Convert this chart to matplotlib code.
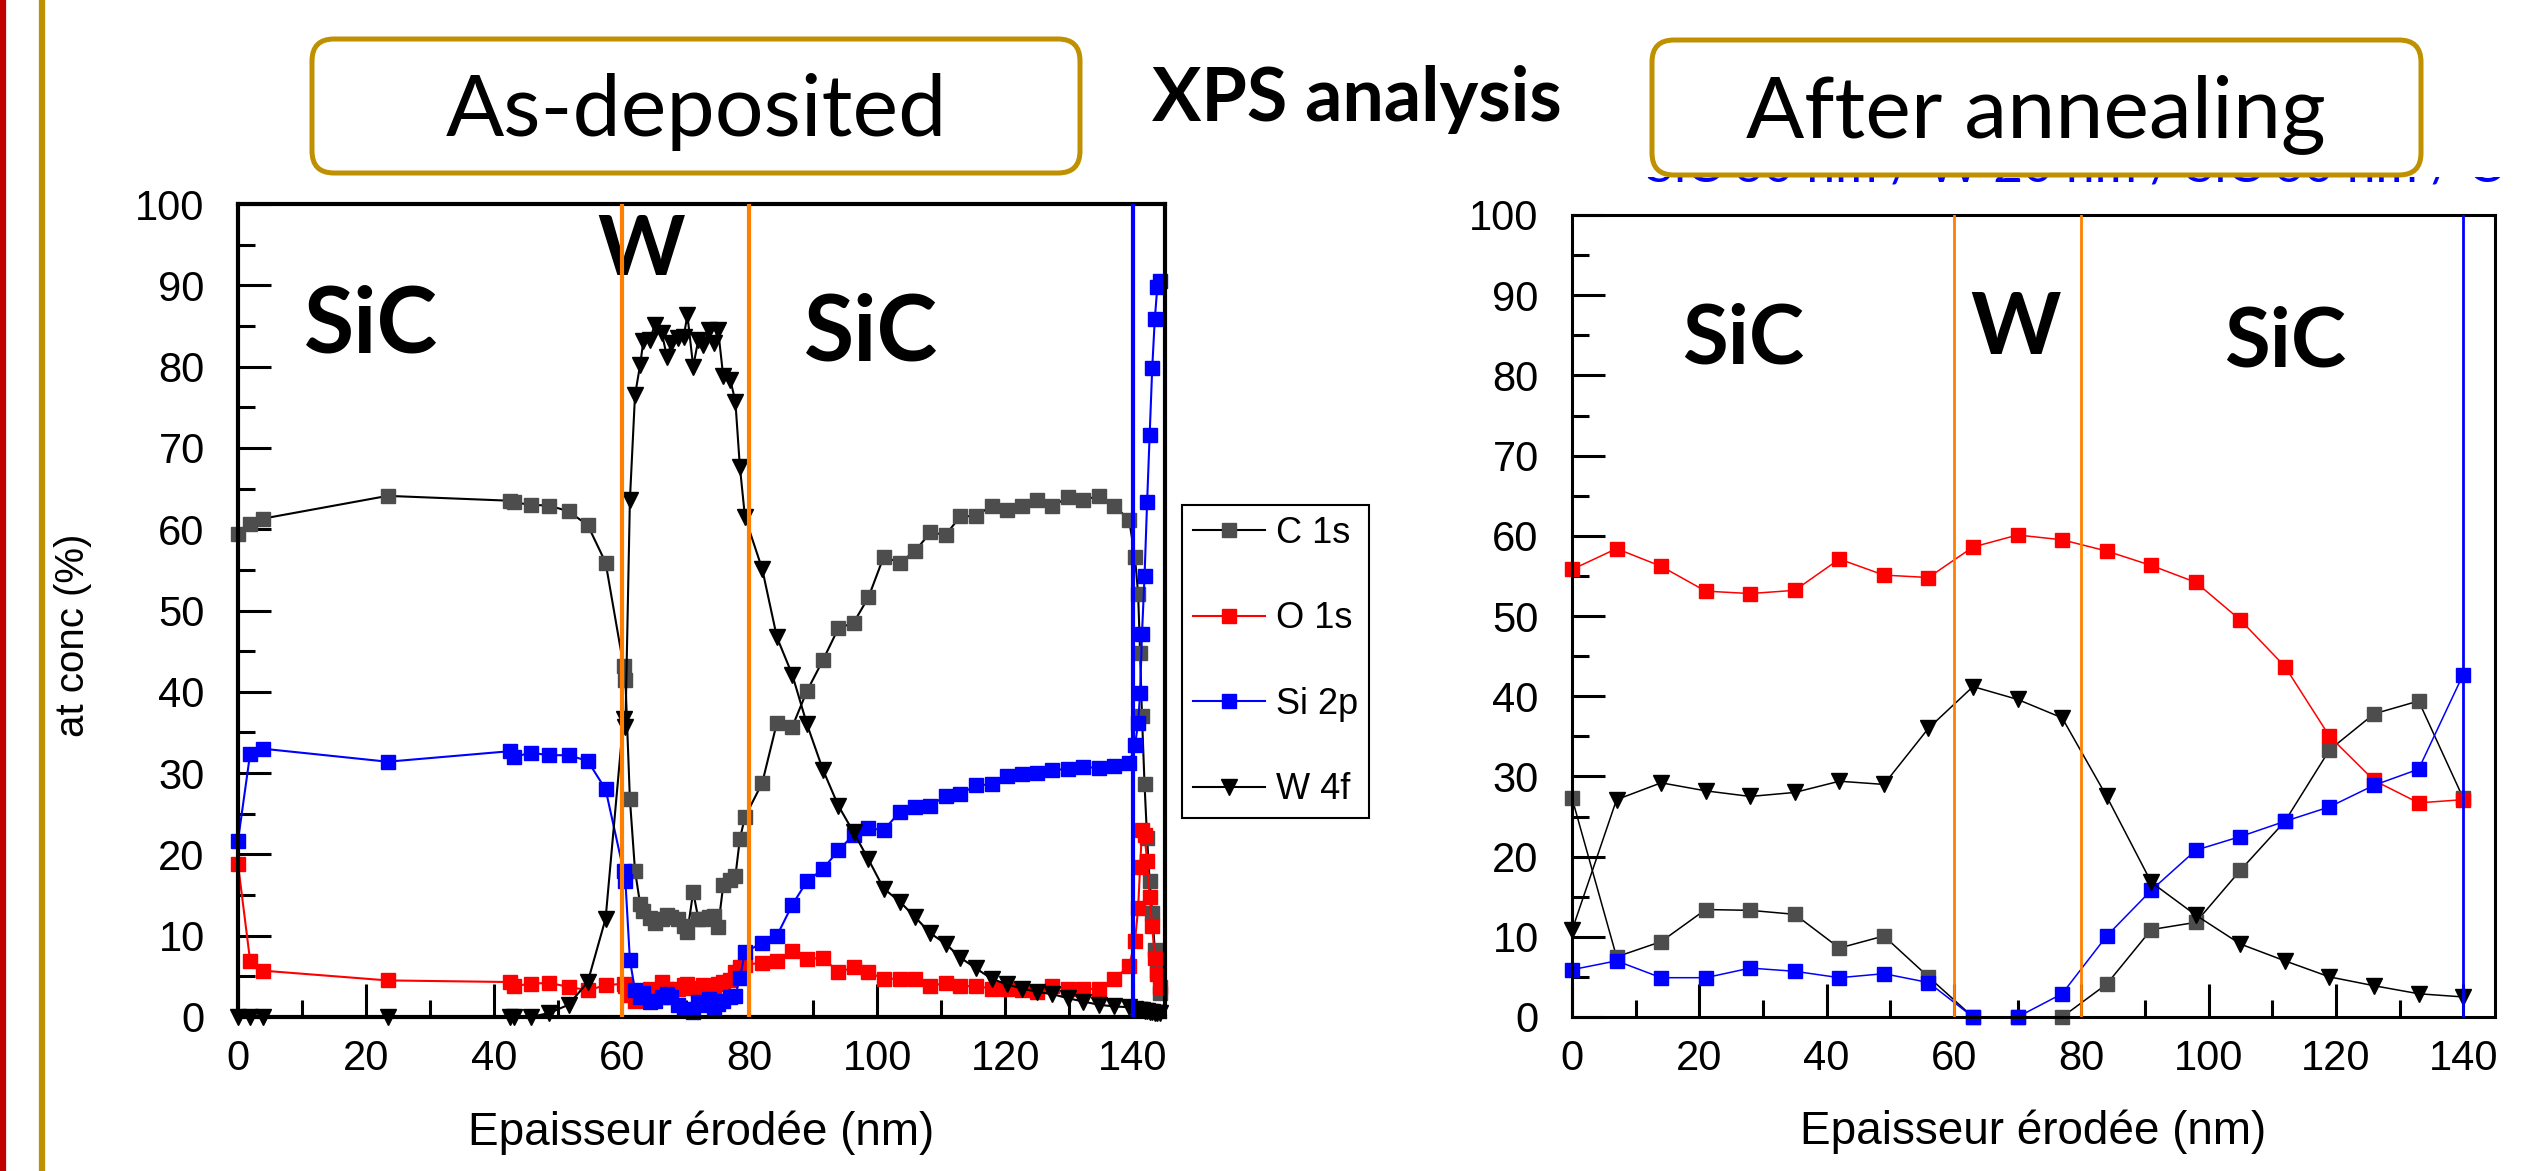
import matplotlib
matplotlib.use("Agg")
import matplotlib.pyplot as plt
import matplotlib.transforms as mtransforms
from matplotlib.patches import FancyBboxPatch
from matplotlib.lines import Line2D
from matplotlib.ticker import MultipleLocator

# ---- as-deposited profile (left) ----
dep_x = [0, 1.9, 3.9, 23.4, 42.6, 43.2, 45.8, 48.7, 51.7, 54.7, 57.5, 60.3, 60.6,
         61.3, 62.1, 62.9, 63.4, 64.4, 65.2, 66.3, 67.1, 67.8, 68.9, 69.7, 70.3,
         71.2, 72.0, 72.8, 73.6, 74.4, 75.1, 75.9, 77.0, 77.8, 78.5, 79.3, 82.0,
         84.3, 86.7, 89.0, 91.5, 93.9, 96.3, 98.6, 101.0, 103.5, 105.9, 108.3,
         110.7, 113.0, 115.4, 117.9, 120.3, 122.6, 125.0, 127.4, 129.9, 132.2,
         134.7, 137.1, 139.4, 140.3, 140.8, 141.1, 141.4, 141.8, 142.2, 142.6,
         143.0, 143.4, 143.8, 144.2]
dep_c1s = [59.4, 60.6, 61.3, 64.1, 63.5, 63.3, 63.0, 62.9, 62.2, 60.5, 55.9, 43.2, 41.4,
           26.8, 18.0, 13.9, 13.0, 12.2, 11.6, 12.0, 12.5, 12.3, 12.0, 11.2, 10.5,
           15.4, 12.1, 12.0, 12.3, 12.4, 11.1, 16.2, 16.8, 17.3, 21.9, 24.6, 28.8,
           36.2, 35.7, 40.1, 43.9, 47.8, 48.5, 51.6, 56.6, 55.9, 57.3, 59.6,
           59.3, 61.6, 61.6, 62.9, 62.4, 62.9, 63.6, 62.9, 63.9, 63.6,
           64.1, 62.9, 61.1, 56.6, 52.0, 44.8, 37.0, 28.6, 22.0, 16.7,
           12.8, 8.3, 5.7, 3.0]
dep_o1s = [18.8, 6.9, 5.7, 4.5, 4.3, 3.8, 4.1, 4.2, 3.7, 3.3, 3.9, 4.1, 3.8,
           2.7, 2.0, 2.5, 3.2, 3.5, 2.8, 4.3, 3.4, 3.2, 3.5, 3.9, 4.1,
           3.6, 3.3, 3.9, 3.4, 3.6, 4.0, 4.3, 4.6, 5.5, 6.2, 6.4, 6.7,
           6.9, 8.1, 7.1, 7.3, 5.5, 6.1, 5.5, 4.7, 4.7, 4.7, 3.8,
           4.2, 3.8, 3.8, 3.5, 3.4, 3.3, 3.1, 3.8, 3.4, 3.4,
           3.5, 4.7, 6.3, 9.3, 13.4, 18.4, 23.0, 22.4, 19.2, 14.7,
           11.2, 7.2, 5.3, 3.7]
dep_si2p = [21.7, 32.4, 33.0, 31.4, 32.7, 32.0, 32.5, 32.2, 32.2, 31.5, 28.0, 18.0, 16.7,
            7.0, 3.3, 2.5, 3.0, 1.8, 2.0, 2.5, 2.8, 2.4, 1.5, 1.0, 0.8,
            0.6, 1.8, 1.5, 2.2, 1.2, 1.6, 2.0, 2.5, 2.6, 4.8, 8.0, 9.1,
            10.0, 13.8, 16.7, 18.2, 20.5, 22.4, 23.2, 23.0, 25.2, 25.8, 26.0,
            27.2, 27.4, 28.5, 28.6, 29.6, 29.9, 30.0, 30.4, 30.5, 30.8,
            30.6, 30.9, 31.2, 33.4, 36.2, 39.8, 47.1, 54.2, 63.3, 71.6,
            79.8, 85.8, 89.8, 90.5]
dep_w4f = [0, 0, 0, 0, 0, 0, 0, 0.5, 1.5, 4.3, 12.1, 36.7, 35.7,
           63.6, 76.5, 80.2, 83.1, 83.3, 85.1, 84.1, 81.2, 82.9, 83.5, 83.7, 86.3,
           80.0, 83.3, 82.7, 84.5, 82.9, 84.5, 78.8, 78.4, 75.7, 67.7, 61.5, 55.1,
           46.7, 42.1, 36.0, 30.4, 26.0, 22.7, 19.4, 15.8, 14.2, 12.3, 10.3,
           9.0, 7.3, 6.0, 4.7, 4.0, 3.5, 3.1, 2.8, 2.3, 1.9,
           1.5, 1.3, 1.2, 1.0, 0.9, 0.8, 0.8, 0.7, 0.7, 0.6,
           0.6, 0.5, 0.5, 0.5]

# ---- after annealing profile (right) ----
ann_x = [0, 7, 14, 21, 28, 35, 42, 49, 56, 63, 70, 77, 84, 91, 98, 105, 112, 119, 126, 133, 140]
ann_c1s = [27.3, 7.5, 9.4, 13.4, 13.3, 12.8, 8.6, 10.1, 5.0, 0, 0, 0, 4.1, 10.9, 11.8,
           18.3, 24.4, 33.3, 37.8, 39.4, 27.3]
ann_o1s = [55.8, 58.4, 56.2, 53.1, 52.8, 53.2, 57.1, 55.1, 54.8, 58.6, 60.1, 59.5, 58.1,
           56.3, 54.2, 49.5, 43.7, 35.0, 29.5, 26.7, 27.1]
ann_si2p = [5.9, 7.0, 4.9, 4.9, 6.1, 5.7, 4.9, 5.4, 4.3, 0, 0, 2.9, 10.1, 15.8, 20.8,
            22.5, 24.4, 26.2, 28.9, 30.9, 42.7]
ann_w4f = [10.8, 27.1, 29.2, 28.2, 27.5, 28.0, 29.4, 29.0, 36.0, 41.2, 39.6, 37.3, 27.5,
           16.8, 12.7, 9.1, 7.0, 5.0, 3.9, 2.9, 2.5]

series_labels = ['C 1s', 'O 1s', 'Si 2p', 'W 4f']
layer_bounds = [60, 80]
substrate_edge = 140

W, H = 2539, 1171
ARIAL = ['Liberation Sans', 'DejaVu Sans']
CALIBRI = ['Lato', 'DejaVu Sans']
GOLD = '#BF9000'


def style_axis(ax, spine_w):
    ax.set_xlim(0, 145)
    ax.set_ylim(0, 100)
    ax.xaxis.set_major_locator(MultipleLocator(20))
    ax.xaxis.set_minor_locator(MultipleLocator(10))
    ax.yaxis.set_major_locator(MultipleLocator(10))
    ax.yaxis.set_minor_locator(MultipleLocator(5))
    ax.tick_params(which='both', direction='in', top=False, right=False, width=2.2)
    ax.tick_params(which='major', length=24)
    ax.tick_params(which='minor', length=12)
    ax.tick_params(axis='y', which='major', labelsize=30, pad=24)
    ax.tick_params(axis='x', which='major', labelsize=30, pad=16)
    for lab in ax.get_xticklabels() + ax.get_yticklabels():
        lab.set_family(ARIAL)
    for s in ax.spines.values():
        s.set_linewidth(spine_w)
    ax.set_xlabel('Epaisseur érodée (nm)', fontsize=33, family=ARIAL)
    ax.xaxis.set_label_coords(0.5, -0.115)


def draw_series(ax, x, c, o, si, w, lw, ms, tms):
    lc, = ax.plot(x, c, '-', color='black', lw=lw, marker='s', ms=ms,
                  mfc='#4D4D4D', mec='#4D4D4D', clip_on=False, label=series_labels[0])
    lo, = ax.plot(x, o, '-', color='#FF0000', lw=lw, marker='s', ms=ms,
                  mfc='#FF0000', mec='#FF0000', clip_on=False, label=series_labels[1])
    ls, = ax.plot(x, si, '-', color='#0000FF', lw=lw, marker='s', ms=ms,
                  mfc='#0000FF', mec='#0000FF', clip_on=False, label=series_labels[2])
    lw4, = ax.plot(x, w, '-', color='black', lw=lw, marker='v', ms=tms,
                   mfc='black', mec='black', clip_on=False, label=series_labels[3])
    return [lc, lo, ls, lw4]


def main():
    fig = plt.figure(figsize=(W / 100, H / 100), dpi=100)
    fig.patch.set_facecolor('white')

    ax1 = fig.add_axes([238 / W, 1 - 1017 / H, 927 / W, 813 / H])
    ax2 = fig.add_axes([1572 / W, 1 - 1017 / H, 923 / W, 802 / H])

    handles = draw_series(ax1, dep_x, dep_c1s, dep_o1s, dep_si2p, dep_w4f, 1.5, 10, 12)
    draw_series(ax2, ann_x, ann_c1s, ann_o1s, ann_si2p, ann_w4f, 1.1, 10, 11)

    for ax, vw in [(ax1, 3.0), (ax2, 2.0)]:
        for b in layer_bounds:
            ax.axvline(b, color='#FF8000', lw=vw, zorder=5)
        ax.axvline(substrate_edge, color='#0000FF', lw=vw, zorder=5)

    style_axis(ax1, 3.0)
    style_axis(ax2, 2.2)

    ax1.set_ylabel('at conc (%)', fontsize=29, family=ARIAL)
    ax1.yaxis.set_label_coords(-0.158, 0.47)

    # layer names
    ax1.text(20.8, 84.9, 'SiC', fontsize=66, fontweight='bold', family=CALIBRI, ha='center', va='center')
    ax1.text(63, 94.2, 'W', fontsize=60, fontweight='bold', family=CALIBRI, ha='center', va='center')
    ax1.text(99, 83.9, 'SiC', fontsize=66, fontweight='bold', family=CALIBRI, ha='center', va='center')
    ax2.text(26.9, 84.4, 'SiC', fontsize=60, fontweight='bold', family=CALIBRI, ha='center', va='center')
    ax2.text(69.6, 85.7, 'W', fontsize=62, fontweight='bold', family=CALIBRI, ha='center', va='center')
    ax2.text(112, 84.0, 'SiC', fontsize=60, fontweight='bold', family=CALIBRI, ha='center', va='center')

    leg = ax1.legend(handles=handles, loc='upper left', bbox_to_anchor=(1182 / W, 1 - 505 / H),
                     bbox_transform=fig.transFigure, borderaxespad=0, fancybox=False,
                     framealpha=1, edgecolor='black', prop={'family': ARIAL, 'size': 26},
                     handlelength=2.0, labelspacing=1.4, borderpad=0.3, handletextpad=0.3)
    leg.get_frame().set_linewidth(1.5)

    # slide decorations
    fig.add_artist(Line2D([3 / W, 3 / W], [0, 1], color='#C00000', lw=4.5, transform=fig.transFigure))
    fig.add_artist(Line2D([42 / W, 42 / W], [0, 1], color=GOLD, lw=4.5, transform=fig.transFigure))

    # caption mostly hidden behind the "After annealing" box, only a thin strip shows
    cap = fig.text(1646 / W, 1 - 182 / H, 'SiC 60 nm / W 20 nm / SiC 60 nm / C', color='#0000FF',
                   fontsize=37, family=CALIBRI, ha='left', va='baseline', zorder=0.5)
    cap.set_clip_box(mtransforms.Bbox.from_extents(0, 0, W, H - 177))
    cap.set_clip_on(True)

    for x0, y0, bw, bh in [(312, 998, 768, 134), (1652, 996, 769, 135)]:
        box = FancyBboxPatch((x0, y0), bw, bh, boxstyle='round,pad=0,rounding_size=22',
                             transform=mtransforms.IdentityTransform(),
                             facecolor='white', edgecolor=GOLD, lw=3.6, zorder=1)
        fig.add_artist(box)

    fig.text(696 / W, 1 - 112 / H, 'As-deposited', fontsize=62, family=CALIBRI,
             ha='center', va='center', zorder=3)
    fig.text(2036 / W, 1 - 114 / H, 'After annealing', fontsize=62, family=CALIBRI,
             ha='center', va='center', zorder=3)
    fig.text(1357 / W, 1 - 100 / H, 'XPS analysis', fontsize=53, fontweight='bold',
             family=CALIBRI, ha='center', va='center', zorder=3)

    fig.savefig('out.png', dpi=100)


if __name__ == '__main__':
    main()
